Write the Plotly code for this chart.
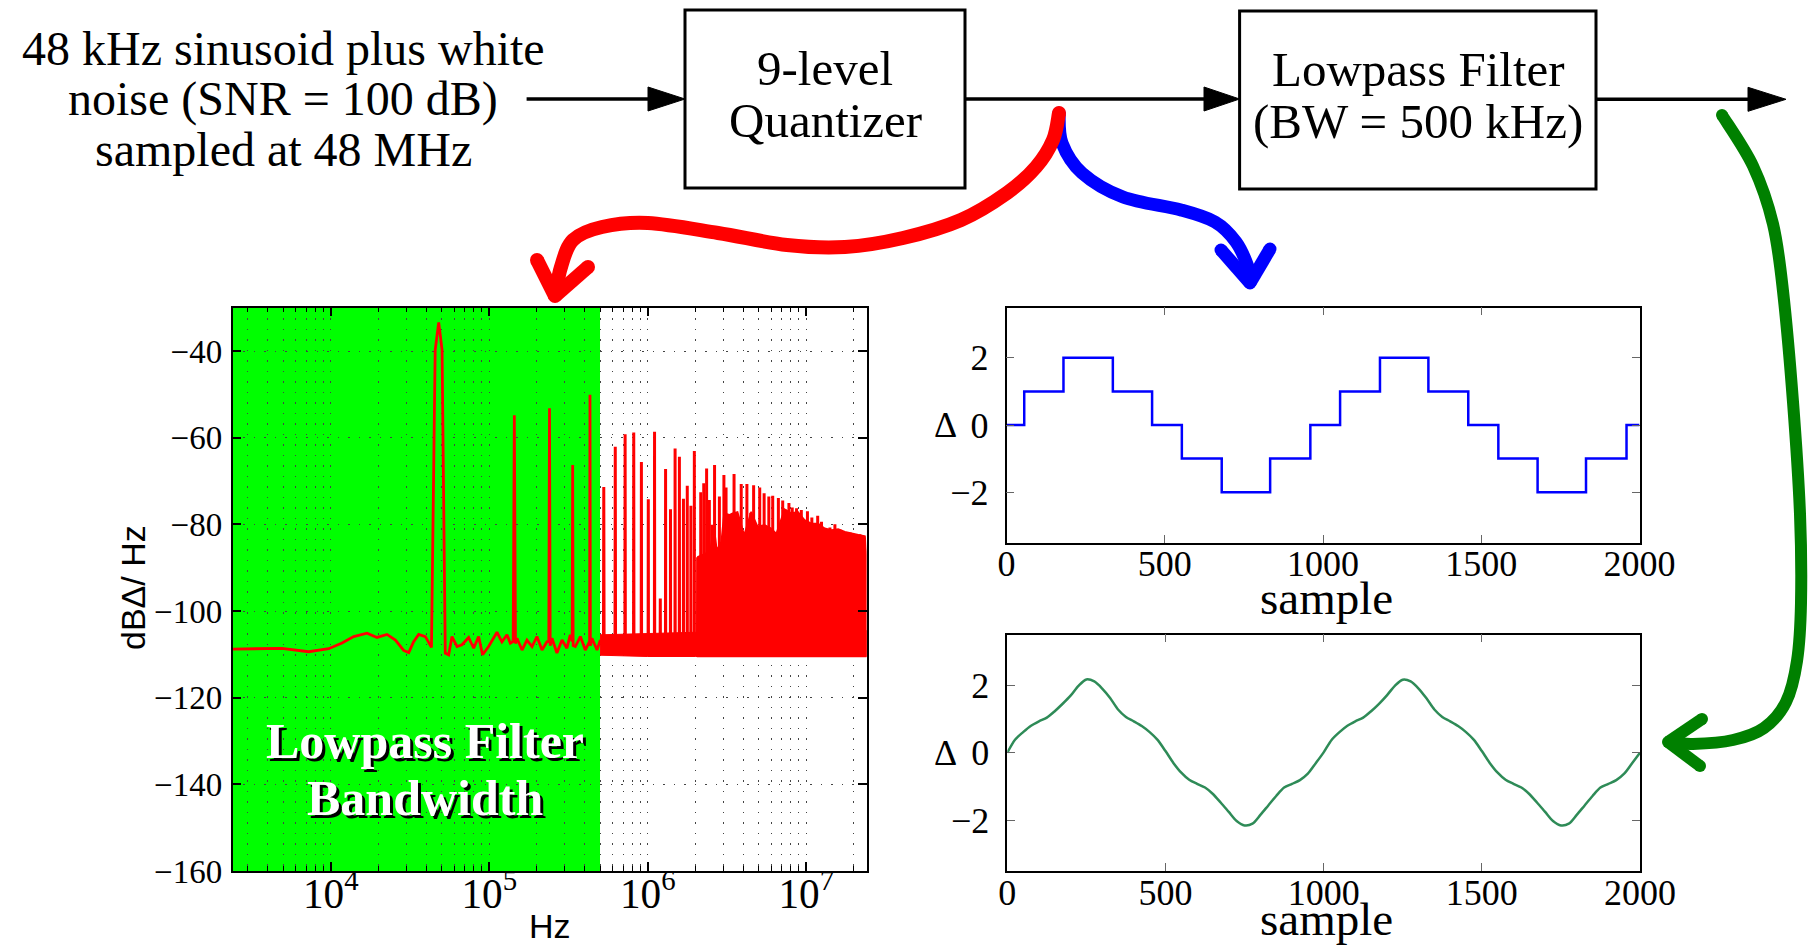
import numpy as np
import plotly.graph_objects as go

W, H = 1814, 948


def X(px):
    return px / W


def Y(py):
    return 1 - py / H


# ---------------- data ----------------
# Spectrum of the 9-level quantizer output: low-frequency part (Hz, dB)
lf_freq_hz = [2400, 3430, 4920, 7260, 9700, 11780, 13960, 16940, 19590, 22650,
              25590, 28840, 31050, 33340, 35890, 39540, 43200, 45600, 48000, 50400,
              52800, 55460, 58210, 62660, 67300, 74130, 79800, 85700, 90780, 99080,
              111940, 120230, 129420, 135830, 141600, 144000, 146400, 149620, 161070, 172980,
              186210, 199990, 215280, 231210, 237600, 240000, 242400, 248890, 267300, 287740,
              309030, 324340, 333600, 336000, 338400, 349140, 375840, 403650, 429600, 432000,
              434400, 444630, 478630, 502340]
lf_db = [-108.8, -108.7, -108.6, -109.4, -108.7, -107.4, -105.9, -105.1, -106.1, -105.4,
         -106.7, -109.1, -109.6, -107.1, -105.4, -105.9, -108.4, -39.8, -33.4, -39.8,
         -109.7, -110.1, -105.9, -108.2, -107.8, -106.1, -108.6, -105.9, -110.1, -108.2,
         -104.9, -107.1, -105.5, -107.4, -107.0, -54.8, -107.5, -106.3, -109.0, -106.7,
         -108.2, -105.9, -109.0, -107.1, -107.0, -53.2, -108.0, -106.3, -109.7, -106.7,
         -108.6, -105.5, -107.0, -66.3, -108.0, -108.2, -105.9, -109.0, -107.0, -50.1,
         -108.0, -106.3, -109.0, -106.7]

# Quantization harmonics above the filter band (Hz, peak dB)
harm_freq_hz = [528e3, 624e3, 720e3, 816e3, 912e3, 1008e3, 1104e3, 1200e3, 1296e3, 1392e3,
                1488e3, 1584e3, 1680e3, 1776e3, 1872e3, 1968e3, 2064e3, 2160e3, 2256e3, 2352e3,
                2448e3, 2544e3, 2640e3, 2736e3, 2832e3, 2928e3, 3024e3, 3120e3, 3216e3, 3504e3,
                3888e3, 4224e3, 4464e3, 4656e3, 4848e3, 5088e3, 5424e3, 5808e3, 6144e3, 6672e3,
                7104e3, 7344e3, 7776e3, 8160e3, 8688e3, 9312e3, 10176e3, 10848e3, 11808e3, 12480e3,
                14112e3, 15168e3, 16320e3, 18912e3, 21792e3]
harm_db = [-71.4, -62.1, -59.2, -58.8, -65.6, -74.2, -58.6, -97.1, -67.2, -76.5,
           -62.5, -64.4, -74.1, -71.1, -75.7, -63.1, -87.6, -72.6, -70.5, -67.1,
           -74.4, -80.1, -66.3, -86.1, -73.6, -86.0, -68.6, -71.5, -80.0, -68.4,
           -70.7, -70.7, -77.3, -71.0, -80.5, -71.5, -72.8, -73.6, -73.4, -73.9,
           -74.5, -76.5, -75.1, -76.1, -76.3, -76.7, -77.0, -78.4, -78.0, -79.4,
           -80.7, -80.0, -81.2, -81.9, -82.3]
harm_floor_db = -107.5
bin_hz = 2400

# Noise-floor band above the filter band
band_freq_hz = [5.0e5, 1.0e6, 2.0e6, 2.4e7]
band_top_db = [-105.5, -105.2, -104.9, -104.5]
band_bot_db = [-110.2, -110.5, -110.5, -110.5]

# Upper edge of the densely packed harmonic region (Hz, dB)
dense_freq_hz = [2.04e6, 2.07e6, 2.32e6, 2.50e6, 2.62e6, 2.73e6, 2.91e6, 3.03e6, 3.27e6, 3.43e6,
                 3.69e6, 4.06e6, 4.49e6, 4.94e6, 5.45e6, 6.01e6, 6.47e6, 7.30e6, 8.05e6, 8.87e6,
                 9.77e6, 10.79e6, 11.89e6, 13.09e6, 14.45e6, 15.92e6, 17.54e6, 19.36e6, 21.33e6, 23.50e6,
                 24.0e6]
dense_top_db = [-105.9, -87.5, -86.7, -85.1, -80.5, -85.9, -84.0, -77.4, -77.8, -77.4,
                -77.1, -82.4, -77.1, -80.5, -80.1, -80.9, -82.1, -76.5, -77.4, -77.1,
                -79.0, -79.8, -79.8, -80.9, -81.3, -81.1, -81.7, -82.1, -82.4, -82.7,
                -87.0]
dense_bot_db = -110.5

filter_bw_hz = 5.0e5

# Quantizer output (time domain): step edges and levels (units of Delta)
step_sample = [0, 56, 180, 336, 460, 554, 680, 833, 960, 1054, 1180, 1333, 1459, 1554, 1678, 1831, 1959, 2000]
step_level = [0, 1, 2, 1, 0, -1, -2, -1, 0, 1, 2, 1, 0, -1, -2, -1, 0, 0]

# Lowpass filter output (time domain)
filt_sample = list(range(0, 2001, 25))
filt_value = [0.00, 0.39, 0.61, 0.80, 0.93, 1.04, 1.23, 1.45, 1.69, 1.98,
              2.17, 2.11, 1.90, 1.62, 1.28, 1.06, 0.93, 0.79, 0.61, 0.38,
              0.05, -0.30, -0.59, -0.80, -0.92, -1.03, -1.22, -1.48, -1.75, -2.02,
              -2.15, -2.10, -1.84, -1.56, -1.28, -1.03, -0.92, -0.81, -0.62, -0.31,
              0.01, 0.38, 0.61, 0.80, 0.93, 1.04, 1.23, 1.45, 1.70, 1.98,
              2.16, 2.11, 1.90, 1.61, 1.28, 1.06, 0.93, 0.79, 0.61, 0.38,
              0.05, -0.30, -0.59, -0.80, -0.92, -1.03, -1.22, -1.48, -1.75, -2.02,
              -2.15, -2.10, -1.84, -1.56, -1.28, -1.03, -0.92, -0.81, -0.62, -0.31,
              0.00]

# ---------------- figure ----------------
serif = "Liberation Serif"
sans = "Liberation Sans"
RED = "#ff0000"

fig = go.Figure()

fig.add_trace(go.Scatter(x=band_freq_hz + band_freq_hz[::-1], y=band_top_db + band_bot_db[::-1],
                         fill="toself", fillcolor=RED, line=dict(color=RED, width=1),
                         mode="lines", xaxis="x", yaxis="y", hoverinfo="skip"))
fig.add_trace(go.Scatter(x=dense_freq_hz + [dense_freq_hz[-1], dense_freq_hz[0]],
                         y=dense_top_db + [dense_bot_db, dense_bot_db],
                         fill="toself", fillcolor=RED, line=dict(color=RED, width=1.5),
                         mode="lines", xaxis="x", yaxis="y", hoverinfo="skip"))
sx, sy = [], []
for f, p in zip(harm_freq_hz, harm_db):
    sx += [f - bin_hz, f, f + bin_hz, None]
    sy += [harm_floor_db, p, harm_floor_db, None]
fig.add_trace(go.Scatter(x=sx, y=sy, mode="lines", line=dict(color=RED, width=3),
                         xaxis="x", yaxis="y", connectgaps=False, hoverinfo="skip"))
fig.add_trace(go.Scatter(x=lf_freq_hz, y=lf_db, mode="lines", line=dict(color=RED, width=2.8),
                         xaxis="x", yaxis="y"))

fig.add_trace(go.Scatter(x=step_sample, y=step_level, mode="lines", line=dict(color="#0000ff", width=2.5, shape="hv"),
                         xaxis="x2", yaxis="y2"))
fig.add_trace(go.Scatter(x=filt_sample, y=filt_value, mode="lines",
                         line=dict(color="#2e8b57", width=2.5, shape="spline", smoothing=0.8),
                         xaxis="x3", yaxis="y3"))

grid_kw = dict(showgrid=True, gridcolor="#444444", griddash="1.5px,9px", gridwidth=1.2)
frame = dict(showline=True, linecolor="black", linewidth=1.5, mirror="allticks", ticks="inside",
             zeroline=False, automargin=False)

time_tick = dict(ticklen=8, tickwidth=1.2, tickcolor="#666666",
                 tickfont=dict(family=serif, size=36, color="black"))

layout = dict(
    width=W, height=H, margin=dict(l=0, r=0, t=0, b=0, pad=0, autoexpand=False),
    paper_bgcolor="white", plot_bgcolor="white", showlegend=False,
    xaxis=dict(domain=[X(232.5), X(866.5)], type="log", range=[np.log10(2400), np.log10(24e6)],
               dtick=1, exponentformat="power", showexponent="all", ticklen=9, tickwidth=1.5,
               tickcolor="black", tickfont=dict(family=serif, size=33, color="black"), anchor="y",
               ticklabelstandoff=-13,
               minor=dict(dtick="D1", ticks="inside", ticklen=5, tickcolor="black", tickwidth=1.2, **grid_kw),
               **grid_kw, **frame),
    yaxis=dict(domain=[Y(871), Y(307.7)], range=[-160, -30], tick0=-160, dtick=20, ticklen=9, tickwidth=1.5,
               tickcolor="black", tickfont=dict(family=serif, size=33, color="black"), anchor="x",
               ticklabelstandoff=2, **grid_kw, **frame),
    xaxis2=dict(domain=[X(1006.5), X(1639.5)], range=[0, 2000], dtick=500, anchor="y2", showgrid=False,
                ticklabelstandoff=-11, **time_tick, **frame),
    yaxis2=dict(domain=[Y(542.5), Y(307.5)], range=[-3.5, 3.5], tickvals=[-2, 0, 2], anchor="x2",
                showgrid=False, ticklabelstandoff=9, **time_tick, **frame),
    xaxis3=dict(domain=[X(1007.3), X(1640)], range=[0, 2000], dtick=500, anchor="y3", showgrid=False,
                ticklabelstandoff=-11, **time_tick, **frame),
    yaxis3=dict(domain=[Y(871), Y(634.5)], range=[-3.5, 3.5], tickvals=[-2, 0, 2], anchor="x3",
                showgrid=False, ticklabelstandoff=9, **time_tick, **frame),
)
fig.update_layout(**layout)

shapes = []
shapes.append(dict(type="rect", xref="x", yref="y domain", x0=lf_freq_hz[0], x1=filter_bw_hz, y0=0, y1=1,
                   fillcolor="#00ff00", line=dict(width=0), layer="below"))

for (x0, y0, x1, y1) in [(685, 10, 965, 188), (1239.6, 11, 1596, 189)]:
    shapes.append(dict(type="rect", xref="paper", yref="paper", x0=X(x0), x1=X(x1), y0=Y(y1), y1=Y(y0),
                       line=dict(color="black", width=3), fillcolor="rgba(0,0,0,0)"))
for (xa, xb, yy) in [(526.6, 650, 99), (965, 1206, 99), (1596, 1750, 99.3)]:
    shapes.append(dict(type="line", xref="paper", yref="paper", x0=X(xa), x1=X(xb), y0=Y(yy), y1=Y(yy),
                       line=dict(color="black", width=3.5)))
for (xs, xt, yy) in [(648, 685, 99), (1204, 1239.6, 99), (1748, 1786, 99.3)]:
    p = f"M {X(xs)},{Y(yy-12)} L {X(xt)},{Y(yy)} L {X(xs)},{Y(yy+12)} Z"
    shapes.append(dict(type="path", xref="paper", yref="paper", path=p, fillcolor="black",
                       line=dict(color="black", width=1)))


def smooth_path(pts):
    P = [(X(a), Y(b)) for a, b in pts]
    d = f"M {P[0][0]:.6f},{P[0][1]:.6f}"
    for i in range(len(P) - 1):
        p0 = P[i - 1] if i > 0 else P[i]
        p1, p2 = P[i], P[i + 1]
        p3 = P[i + 2] if i + 2 < len(P) else P[i + 1]
        c1 = (p1[0] + (p2[0] - p0[0]) / 6, p1[1] + (p2[1] - p0[1]) / 6)
        c2 = (p2[0] - (p3[0] - p1[0]) / 6, p2[1] - (p3[1] - p1[1]) / 6)
        d += f" C {c1[0]:.6f},{c1[1]:.6f} {c2[0]:.6f},{c2[1]:.6f} {p2[0]:.6f},{p2[1]:.6f}"
    return d


def cap(x, y, w, color):
    r = w / 2
    return dict(type="circle", xref="paper", yref="paper", x0=X(x - r), x1=X(x + r), y0=Y(y + r), y1=Y(y - r),
                fillcolor=color, line=dict(width=0))


def curved_arrow(pts, head, w, color):
    out = [dict(type="path", xref="paper", yref="paper", path=smooth_path(pts), line=dict(color=color, width=w))]
    a, tip, b = head
    for arm in (a, b):
        out.append(dict(type="path", xref="paper", yref="paper",
                        path=f"M {X(arm[0])},{Y(arm[1])} L {X(tip[0])},{Y(tip[1])}",
                        line=dict(color=color, width=w)))
        out.append(cap(arm[0], arm[1], w, color))
    out.append(cap(tip[0], tip[1], w, color))
    out.append(cap(pts[0][0], pts[0][1], w, color))
    return out


blue_pts = [(1059, 113), (1062, 143), (1082, 173), (1123, 197), (1181, 210), (1215, 222), (1236, 242),
            (1248, 267), (1250, 282)]
blue_head = [(1221, 250), (1250, 283), (1270, 249)]
red_pts = [(1059, 113), (1053, 140), (1036, 167), (1007, 193), (961, 220), (903, 238), (845, 247), (787, 245),
           (718, 233), (648, 223), (602, 227), (573, 240), (561, 267), (556, 292)]
red_head = [(537, 260), (555, 296), (588, 267)]
green_pts = [(1722, 115), (1753, 166), (1773, 224), (1783, 291), (1793, 402), (1800, 514), (1801, 603),
             (1797, 661), (1786, 702), (1764, 728), (1733, 740), (1693, 744), (1670, 742)]
green_head = [(1702, 719), (1668, 742), (1700, 766)]

shapes += curved_arrow(blue_pts, blue_head, 13, "#0000ff")
shapes += curved_arrow(red_pts, red_head, 14, "#ff0000")
shapes += curved_arrow(green_pts, green_head, 12, "#008000")

fig.update_layout(shapes=shapes)

ann = []


def text(x, y, s, size=49, family=serif, color="black", **kw):
    d = dict(x=X(x), y=Y(y), xref="paper", yref="paper", text=s, showarrow=False,
             font=dict(family=family, size=size, color=color), xanchor="center", yanchor="middle")
    d.update(kw)
    ann.append(d)


text(283, 49, "48 kHz sinusoid plus white", size=48)
text(283, 99, "noise (SNR = 100 dB)", size=48)
text(283, 149, "sampled at 48 MHz", size=48)
text(825, 68, "9-level")
text(825, 121, "Quantizer")
text(1418, 70, "Lowpass Filter")
text(1418, 122, "(BW = 500 kHz)")

for s, yy in [("Lowpass Filter", 741), ("Bandwidth", 798)]:
    text(425, yy, f"<b>{s}</b>", size=50, color="black", xshift=3, yshift=-3)
    text(425, yy, f"<b>{s}</b>", size=50, color="white")

text(133, 588, "dBΔ/ Hz", size=34, family=sans, textangle=-90)
text(550, 926, "Hz", size=34, family=sans)
text(1326, 598, "sample", size=47)
text(1326, 919, "sample", size=47)
for yr in ("y2", "y3"):
    ann.append(dict(x=X(946), y=0, xref="paper", yref=yr, text="Δ", showarrow=False,
                    font=dict(family=serif, size=36, color="black"), xanchor="center", yanchor="middle"))
fig.update_layout(annotations=ann)

fig.write_html("out.html", config={"displayModeBar": False},
               post_script="document.body.style.margin='0';")
